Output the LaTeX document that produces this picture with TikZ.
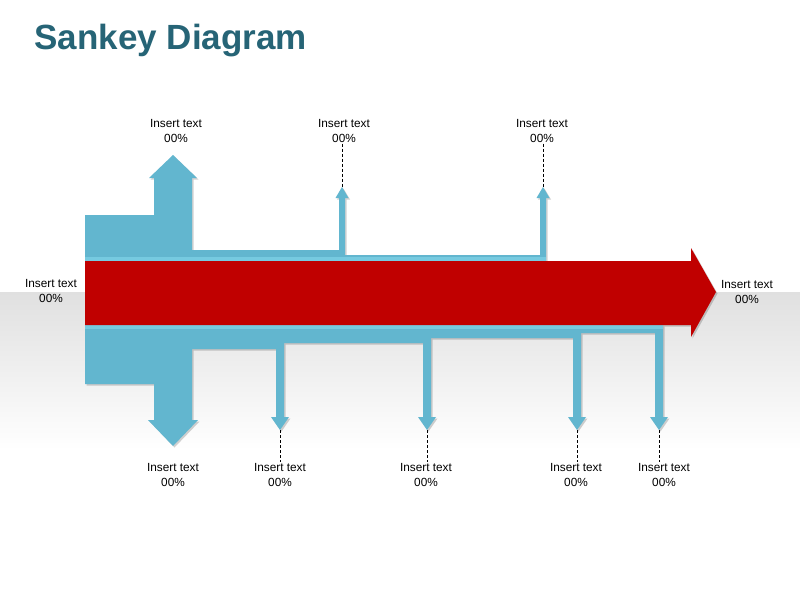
\documentclass[tikz,border=0pt]{standalone}
\usepackage{fontspec}
\setmainfont{Liberation Sans}
\definecolor{flowblue}{RGB}{98,182,207}
\definecolor{flowlight}{RGB}{118,202,224}
\definecolor{mainred}{RGB}{192,0,0}
\definecolor{titleteal}{RGB}{38,100,118}
\definecolor{floorgray}{RGB}{224,224,224}
\begin{document}
\begin{tikzpicture}[x=1pt,y=-1pt,
    flow/.style={fill=flowblue},
    shadow/.style={fill=black,opacity=0.18,shift={(1.5,1.5)}},
    lbl/.style={align=center,inner sep=1pt,font=\fontsize{11.8}{14.6}\selectfont},
    lead/.style={dash pattern=on 3pt off 2pt,line width=1pt}]
  \useasboundingbox (0,0) rectangle (800,600);
  \fill[white] (0,0) rectangle (800,600);
  \shade[top color=floorgray,bottom color=white] (0,292) rectangle (800,450);
  \node[anchor=west,text=titleteal,font=\fontsize{35}{40}\bfseries\selectfont] (title) at (31,41) {Sankey Diagram};
  % outflows above the main band
  \def\upper{(85,261) -- (85,215) -- (154,215) -- (154,178) -- (149,178) -- (173,155) -- (197,178)
    -- (192,178) -- (192,250) -- (339,250) -- (339,198) -- (335.5,198) -- (342,187) -- (348.5,198)
    -- (345,198) -- (345,255) -- (540,255) -- (540,198) -- (536.5,198) -- (543,187) -- (549.5,198)
    -- (546,198) -- (546,261) -- cycle}
  % outflows below the main band
  \def\lower{(85,325) -- (85,384) -- (154,384) -- (154,420) -- (148,420) -- (173,446) -- (198,420)
    -- (192,420) -- (192,349) -- (276,349) -- (276,417) -- (271,417) -- (280,430) -- (289,417)
    -- (284,417) -- (284,343) -- (423,343) -- (423,417) -- (418,417) -- (427,430) -- (436,417)
    -- (431,417) -- (431,338) -- (573,338) -- (573,417) -- (568,417) -- (577,430) -- (586,417)
    -- (581,417) -- (581,333) -- (655,333) -- (655,417) -- (650,417) -- (659,430) -- (668,417)
    -- (663,417) -- (663,325) -- cycle}
  % main flow
  \def\main{(85,261) -- (691,261) -- (691,248) -- (716,292) -- (691,337) -- (691,325) -- (85,325) -- cycle}
  \fill[shadow] \upper;
  \fill[shadow] \lower;
  \fill[shadow] \main;
  \fill[flow] \upper;
  \fill[flow] \lower;
  \fill[flowlight] (85,257) rectangle (546,261);
  \fill[flowlight] (85,325) rectangle (663,329);
  \fill[mainred] \main;
  \coordinate (tipT2) at (342,187);
  \coordinate (tipT3) at (543,187);
  \coordinate (tipB2) at (280,430);
  \coordinate (tipB3) at (427,430);
  \coordinate (tipB4) at (577,430);
  \coordinate (tipB5) at (659,430);
  \node[lbl] (in) at (51,291) {Insert text\\00\%};
  \node[lbl] (out) at (747,292) {Insert text\\00\%};
  \node[lbl] (t1) at (176,131) {Insert text\\00\%};
  \node[lbl] (t2) at (344,131) {Insert text\\00\%};
  \node[lbl] (t3) at (542,131) {Insert text\\00\%};
  \node[lbl] (b1) at (173,475) {Insert text\\00\%};
  \node[lbl] (b2) at (280,475) {Insert text\\00\%};
  \node[lbl] (b3) at (426,475) {Insert text\\00\%};
  \node[lbl] (b4) at (576,475) {Insert text\\00\%};
  \node[lbl] (b5) at (664,475) {Insert text\\00\%};
  \draw[lead] (t2.south -| tipT2) -- (tipT2);
  \draw[lead] (t3.south -| tipT3) -- (tipT3);
  \draw[lead] (tipB2) -- (b2.north -| tipB2);
  \draw[lead] (tipB3) -- (b3.north -| tipB3);
  \draw[lead] (tipB4) -- (b4.north -| tipB4);
  \draw[lead] (tipB5) -- (b5.north -| tipB5);
\end{tikzpicture}
\end{document}
